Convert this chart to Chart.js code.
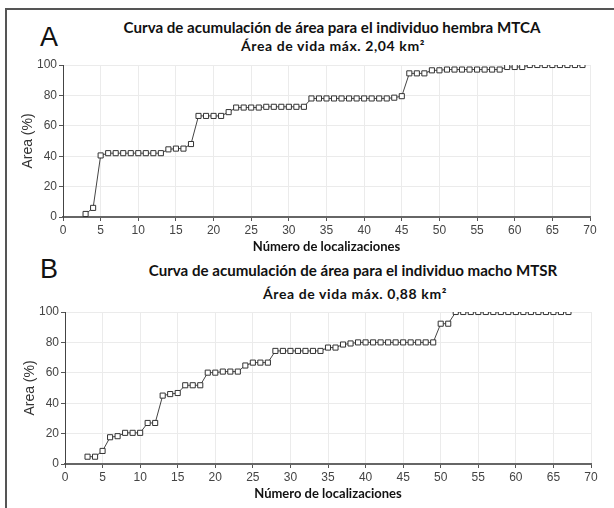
<!DOCTYPE html>
<html>
<head>
<meta charset="utf-8">
<script src="https://cdn.jsdelivr.net/npm/chart.js@4.4.1/dist/chart.umd.min.js"></script>
<style>
  body { margin: 0; background: #fff; width: 614px; height: 508px; overflow: hidden; position: relative; }
  .frame { position: absolute; left: 5px; top: 8px; width: 620px; height: 520px; border-top: 2px solid #555; border-left: 2px solid #555; }
  .letter { position: absolute; font-family: "Liberation Sans", Arial, sans-serif; font-size: 27px; color: #111; }
  .title { position: absolute; font-family: Lato, "Open Sans", sans-serif; font-weight: 700; color: #111; text-align: center; white-space: nowrap; transform: translateX(-50%); }
  .t1 { font-size: 15.1px; }
  .t2 { font-size: 14px; letter-spacing: 0.6px; }
  canvas { position: absolute; }
</style>
</head>
<body>
<div class="frame"></div>
<div class="letter" style="left:40px; top:22px;">A</div>
<div class="title t1" style="left:332px; top:18px;">Curva de acumulación de área para el individuo hembra MTCA</div>
<div class="title t2" style="left:333px; top:37px;">Área de vida máx. 2,04 km²</div>
<div class="letter" style="left:40px; top:254px;">B</div>
<div class="title t1" style="left:353px; top:261px;">Curva de acumulación de área para el individuo macho MTSR</div>
<div class="title t2" style="left:355px; top:285px;">Área de vida máx. 0,88 km²</div>

<div style="position:absolute; left:20px; top:55px; width:588px; height:200px;"><canvas id="chartA"></canvas></div>
<div style="position:absolute; left:22px; top:302px; width:587px; height:200px;"><canvas id="chartB"></canvas></div>

<script>
// Individuo hembra MTCA
const locA = [3, 4, 5, 6, 7, 8, 9, 10, 11, 12, 13, 14, 15, 16, 17, 18, 19, 20, 21, 22,
  23, 24, 25, 26, 27, 28, 29, 30, 31, 32, 33, 34, 35, 36, 37, 38, 39, 40, 41, 42, 43,
  44, 45, 46, 47, 48, 49, 50, 51, 52, 53, 54, 55, 56, 57, 58, 59, 60, 61, 62, 63, 64,
  65, 66, 67, 68, 69];
const areaA = [2, 6, 40.5, 42, 42, 42, 42, 42, 42, 42, 42, 44.5, 45, 45, 48,
  66.5, 66.5, 66.5, 66.5, 69, 72, 72, 72, 72, 72.5, 72.5, 72.5, 72.5, 72.5, 72.5,
  78, 78, 78, 78, 78, 78, 78, 78, 78, 78, 78, 78.5, 79.5, 94.5, 94.5, 94.5,
  96.5, 96.5, 97, 97, 97, 97, 97, 97, 97, 97, 98.7, 98.7, 98.7,
  100, 100, 100, 100, 100, 100, 100, 100];

// Individuo macho MTSR
const locB = [3, 4, 5, 6, 7, 8, 9, 10, 11, 12, 13, 14, 15, 16, 17, 18, 19, 20, 21, 22,
  23, 24, 25, 26, 27, 28, 29, 30, 31, 32, 33, 34, 35, 36, 37, 38, 39, 40, 41, 42, 43,
  44, 45, 46, 47, 48, 49, 50, 51, 52, 53, 54, 55, 56, 57, 58, 59, 60, 61, 62, 63, 64,
  65, 66, 67];
const areaB = [4.8, 4.8, 8.6, 17.6, 18.3, 20.5, 20.5, 20.5, 27, 27, 45, 46, 46.7,
  51.8, 51.8, 51.8, 60.1, 60.1, 60.8, 60.8, 60.8, 64.8, 66.7, 66.7, 66.7,
  74.4, 74.4, 74.4, 74.4, 74.4, 74.4, 74.4, 76.6, 76.6, 78.6, 79.3,
  80, 80, 80, 80, 80, 80, 80, 80, 80, 80, 80, 92.3, 92.3,
  100, 100, 100, 100, 100, 100, 100, 100, 100, 100, 100, 100, 100, 100, 100, 100];

const xTitle = "Número de localizaciones";
const yTitle = "Area (%)";
const sans = "'Liberation Sans', Arial, sans-serif";

function makeChart(id, xs, ys) {
  const ctx = document.getElementById(id).getContext("2d");
  const pts = xs.map((x, i) => ({ x: x, y: ys[i] }));
  return new Chart(ctx, {
    type: "line",
    data: {
      datasets: [{
        data: pts,
        borderColor: "#444",
        borderWidth: 1,
        pointStyle: "rect",
        pointRadius: 3.6,
        pointBackgroundColor: "#fff",
        pointBorderColor: "#333",
        pointBorderWidth: 1,
        tension: 0
      }]
    },
    options: {
      responsive: true,
      maintainAspectRatio: false,
      animation: false,
      layout: { padding: { top: 10, right: 18, left: 0, bottom: 0 } },
      plugins: { legend: { display: false }, tooltip: { enabled: false } },
      scales: {
        x: {
          type: "linear",
          min: 0, max: 70,
          ticks: { stepSize: 5, color: "#444", font: { family: sans, size: 12 }, padding: 2 },
          grid: { color: "#ebebeb", tickColor: "#555", tickLength: 4 },
          border: { color: "#666", width: 2 },
          title: { display: true, text: xTitle, color: "#111", font: { family: "Lato", weight: "bold", size: 13 }, padding: { top: 1, bottom: 0 } },
          afterFit: (axis) => { axis.height = 38; }
        },
        y: {
          min: 0, max: 100,
          ticks: { stepSize: 20, color: "#444", font: { family: sans, size: 12 }, padding: 2 },
          grid: { color: "#ebebeb", tickColor: "#555", tickLength: 4 },
          border: { color: "#444", width: 1 },
          title: { display: true, text: yTitle, color: "#333", font: { family: sans, size: 14 }, padding: { top: 0, bottom: 2 } },
          afterFit: (axis) => { axis.width = 43; }
        }
      }
    }
  });
}

makeChart("chartA", locA, areaA);
makeChart("chartB", locB, areaB);
</script>
</body>
</html>
